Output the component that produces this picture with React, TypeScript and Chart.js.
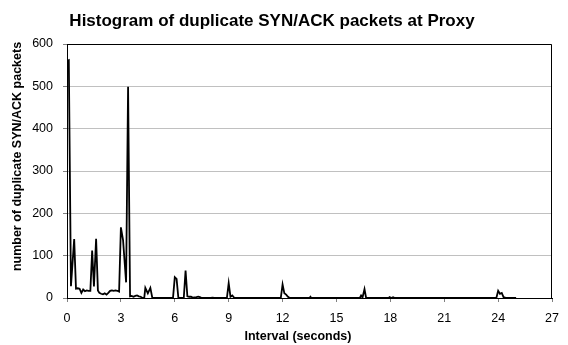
import React, { useEffect, useRef } from 'react';
import { Chart, registerables } from 'chart.js';

Chart.register(...registerables);

const chartTitle = 'Histogram of duplicate SYN/ACK packets at Proxy';
const xAxisTitle = 'Interval (seconds)';
const yAxisTitle = 'number of duplicate SYN/ACK packets';
const xTicks = [0, 3, 6, 9, 12, 15, 18, 21, 24, 27];
const yTicks = [0, 100, 200, 300, 400, 500, 600];

const intervals = [
  0.0, 0.1, 0.22, 0.4, 0.5, 0.6, 0.7, 0.8, 0.9, 1.0, 1.1, 1.2, 1.3, 1.4, 1.5, 1.62, 1.72, 1.8, 1.9, 2.0,
  2.1, 2.2, 2.3, 2.4, 2.5, 2.6, 2.7, 2.8, 2.9, 3.0, 3.12, 3.29, 3.4, 3.51, 3.6, 3.7, 3.8, 3.9, 4.0, 4.1,
  4.2, 4.3, 4.36, 4.5, 4.64, 4.75, 5.9, 6.0, 6.1, 6.2, 6.5, 6.6, 6.7, 6.8, 6.9, 7.0, 7.2, 7.3, 7.4, 7.5,
  8.0, 8.1, 8.2, 8.9, 9.0, 9.1, 9.2, 9.3, 9.4, 11.9, 12.0, 12.1, 12.2, 12.3, 12.4, 13.5, 13.55, 13.6,
  16.3, 16.37, 16.45, 16.56, 16.65, 17.9, 17.96, 18.05, 18.15, 18.25, 23.9, 24.0, 24.1, 24.2, 24.3, 24.4, 25.0,
];
const counts = [
  560, 562, 28, 139, 22, 23, 22, 12, 20, 16, 18, 17, 17, 112, 27, 140, 18, 12, 10, 9,
  11, 8, 12, 17, 18, 17, 18, 17, 15, 167, 137, 37, 499, 4, 5, 3, 5, 6, 4, 3,
  0, 0, 24, 11, 24, 0, 0, 49, 45, 0, 0, 65, 4, 3, 3, 1, 2, 3, 2, 0,
  0, 1, 0, 0, 35, 3, 6, 1, 0, 0, 32, 11, 8, 3, 0, 0, 3, 0,
  0, 6, 1, 21, 0, 0, 2, 0, 2, 0, 0, 17, 10, 12, 2, 1, 0,
];

const FONT = "'Liberation Sans', Arial, sans-serif";

export default function App() {
  const ref = useRef<HTMLCanvasElement>(null);

  useEffect(() => {
    if (!ref.current) return;
    const framePlugin = {
      id: 'frame',
      afterDraw(chart: any) {
        const { ctx, chartArea: a } = chart;
        ctx.save();
        ctx.strokeStyle = '#000';
        ctx.lineWidth = 1;
        ctx.beginPath();
        ctx.moveTo(Math.round(a.left) + 0.5, Math.round(a.top) + 0.5);
        ctx.lineTo(Math.round(a.right) - 0.5, Math.round(a.top) + 0.5);
        ctx.lineTo(Math.round(a.right) - 0.5, Math.round(a.bottom));
        ctx.stroke();
        ctx.fillStyle = '#000';
        ctx.textAlign = 'center';
        ctx.textBaseline = 'middle';
        ctx.font = `bold 17px ${FONT}`;
        ctx.fillText(chartTitle, 272, 21);
        ctx.font = `bold 12.5px ${FONT}`;
        ctx.fillText(xAxisTitle, 298, 337);
        ctx.translate(17.5, 156.5);
        ctx.rotate(-Math.PI / 2);
        ctx.fillText(yAxisTitle, 0, 0);
        ctx.restore();
      },
    };

    const chart = new Chart(ref.current, {
      type: 'line',
      data: {
        datasets: [
          {
            data: intervals.map((x, i) => ({ x, y: counts[i] })),
            borderColor: '#000',
            borderWidth: 1.8,
            pointRadius: 0,
            tension: 0,
            fill: false,
          },
        ],
      },
      options: {
        responsive: false,
        animation: false,
        devicePixelRatio: 1,
        layout: { padding: { top: 44, right: 7, bottom: 0, left: 0 } },
        plugins: {
          legend: { display: false },
          title: { display: false },
          tooltip: { enabled: false },
        },
        scales: {
          x: {
            type: 'linear',
            min: 0,
            max: 27,
            afterBuildTicks: (s: any) => {
              s.ticks = xTicks.map((v) => ({ value: v }));
            },
            afterFit: (s: any) => {
              s.height = 47;
            },
            grid: { drawOnChartArea: false, tickLength: 4, tickColor: '#808080' },
            border: { color: '#000', width: 1 },
            ticks: { color: '#000', font: { family: FONT, size: 12.5 }, padding: 9, maxRotation: 0 },
          },
          y: {
            type: 'linear',
            min: 0,
            max: 600,
            afterBuildTicks: (s: any) => {
              s.ticks = yTicks.map((v) => ({ value: v }));
            },
            afterFit: (s: any) => {
              s.width = 67;
            },
            grid: { color: '#c0c0c0', tickLength: 4, tickColor: '#808080' },
            border: { color: '#000', width: 1 },
            ticks: { color: '#000', font: { family: FONT, size: 12.5 }, padding: 10 },
          },
        },
      },
      plugins: [framePlugin],
    });
    return () => chart.destroy();
  }, []);

  return (
    <div style={{ position: 'absolute', left: 0, top: 0, width: 568, height: 345 }}>
      <canvas ref={ref} width={568} height={345} style={{ display: 'block' }} />
    </div>
  );
}
